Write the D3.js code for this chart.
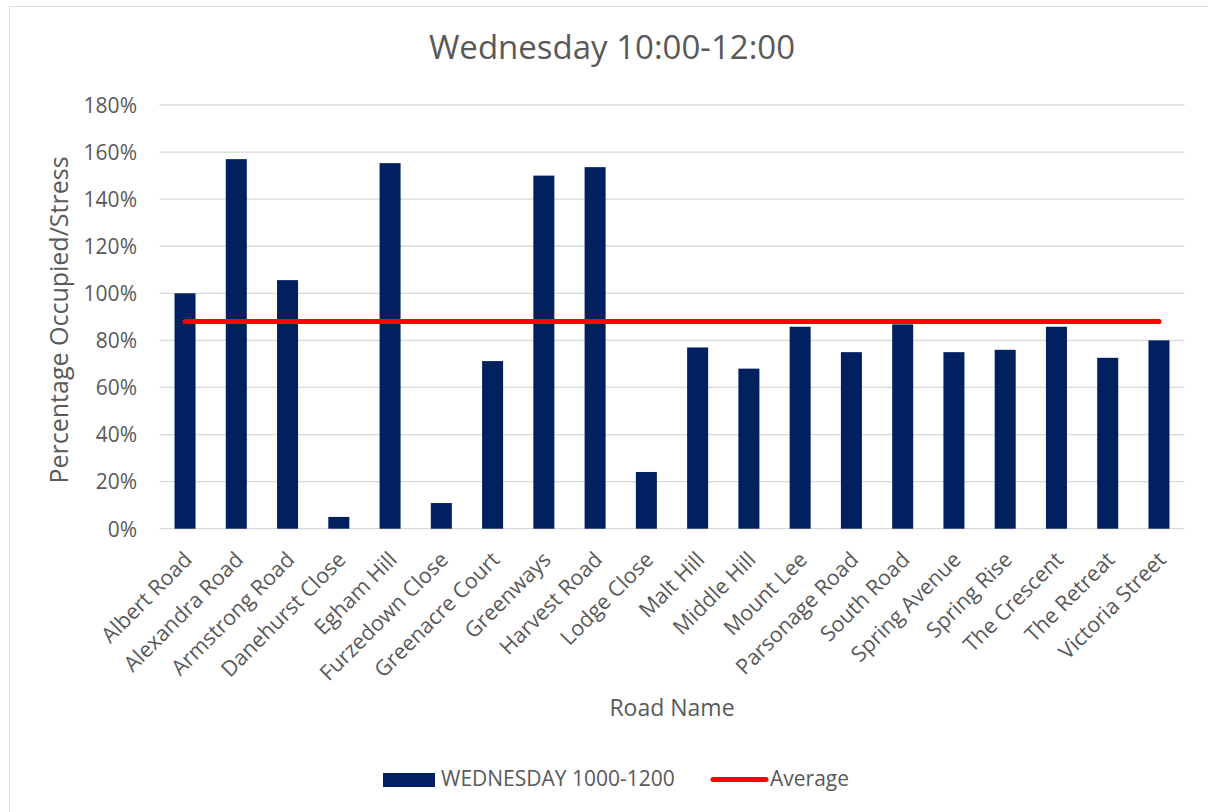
<!DOCTYPE html>
<html>
<head>
<meta charset="utf-8">
<script src="https://cdn.jsdelivr.net/npm/d3@7"></script>
<style>
  html, body { margin: 0; padding: 0; background: #fff; }
  svg { display: block; }
  text { font-family: "Open Sans", sans-serif; fill: #595959; }
</style>
</head>
<body>
<svg id="chart" width="1208" height="812"></svg>
<script>
const categories = ["Albert Road","Alexandra Road","Armstrong Road","Danehurst Close","Egham Hill","Furzedown Close","Greenacre Court","Greenways","Harvest Road","Lodge Close","Malt Hill","Middle Hill","Mount Lee","Parsonage Road","South Road","Spring Avenue","Spring Rise","The Crescent","The Retreat","Victoria Street"];
const values = [1.00,1.57,1.056,0.05,1.553,0.109,0.712,1.50,1.536,0.241,0.77,0.68,0.858,0.75,0.868,0.75,0.76,0.858,0.726,0.80];
const averageValue = 0.88;
const yTicks = [0,0.2,0.4,0.6,0.8,1.0,1.2,1.4,1.6,1.8];
const title = "Wednesday 10:00-12:00";
const xTitle = "Road Name";
const yTitle = "Percentage Occupied/Stress";
const seriesName = "WEDNESDAY 1000-1200";
const avgName = "Average";

const svg = d3.select("#chart");
// outer chart border
svg.append("rect").attr("x",9.5).attr("y",6.5).attr("width",1230).attr("height",830)
  .attr("fill","none").attr("stroke","#d9d9d9").attr("stroke-width",1);

const plot = {left:159.4, right:1184.6, top:105, bottom:528.7};
const x = d3.scaleBand().domain(categories).range([plot.left, plot.right]).paddingInner(0.59).paddingOuter(0.295);
const y = d3.scaleLinear().domain([0,1.8]).range([plot.bottom, plot.top]);

// gridlines
svg.append("g").selectAll("line").data(yTicks).join("line")
  .attr("x1",plot.left).attr("x2",plot.right)
  .attr("y1",d=>y(d)).attr("y2",d=>y(d))
  .attr("stroke","#d9d9d9").attr("stroke-width",1.3);

// y axis labels
const yAxis = d3.axisLeft(y).tickValues(yTicks).tickFormat(d3.format(".0%")).tickSize(0).tickPadding(0);
const yg = svg.append("g").attr("transform",`translate(137,0)`).call(yAxis);
yg.select(".domain").remove();
yg.selectAll("text").attr("font-size","21px").attr("fill","#595959").attr("dy","0.35em")
  .style("font-family","'Open Sans', sans-serif");

// bars
svg.append("g").selectAll("rect").data(values).join("rect")
  .attr("x",(d,i)=>x(categories[i]))
  .attr("width",x.bandwidth())
  .attr("y",d=>y(d))
  .attr("height",d=>y(0)-y(d))
  .attr("fill","#002060");

// average line
const avgData = categories.map(c=>({c, v:averageValue}));
svg.append("path").datum(avgData)
  .attr("d", d3.line().x(d=>x(d.c)+x.bandwidth()/2).y(d=>y(d.v)))
  .attr("fill","none").attr("stroke","#ff0000").attr("stroke-width",5).attr("stroke-linecap","round");

// x axis labels
const xAxis = d3.axisBottom(x).tickSize(0).tickPadding(0);
const xg = svg.append("g").attr("transform",`translate(0,${plot.bottom})`).call(xAxis);
xg.select(".domain").remove();
xg.selectAll("text")
  .attr("font-size","21.5px").attr("fill","#595959")
  .style("font-family","'Open Sans', sans-serif")
  .attr("text-anchor","end")
  .attr("dy",null).attr("y",null)
  .attr("transform","translate(3,27) rotate(-45)")
  .attr("dy","0.35em");

// titles
svg.append("text").attr("x",612).attr("y",59).attr("text-anchor","middle")
  .attr("font-size","33px").text(title);
svg.append("text").attr("x",672).attr("y",716).attr("text-anchor","middle")
  .attr("font-size","23px").text(xTitle);
svg.append("text").attr("transform","translate(68,320) rotate(-90)").attr("text-anchor","middle")
  .attr("font-size","25px").text(yTitle);

// legend
const lg = svg.append("g");
lg.append("rect").attr("x",383).attr("y",773).attr("width",52).attr("height",14).attr("fill","#002060");
lg.append("text").attr("x",441).attr("y",786).attr("font-size","21px").text(seriesName);
lg.append("line").attr("x1",713).attr("x2",766).attr("y1",779.5).attr("y2",779.5)
  .attr("stroke","#ff0000").attr("stroke-width",5).attr("stroke-linecap","round");
lg.append("text").attr("x",770).attr("y",786).attr("font-size","21px").text(avgName);
</script>
</body>
</html>
